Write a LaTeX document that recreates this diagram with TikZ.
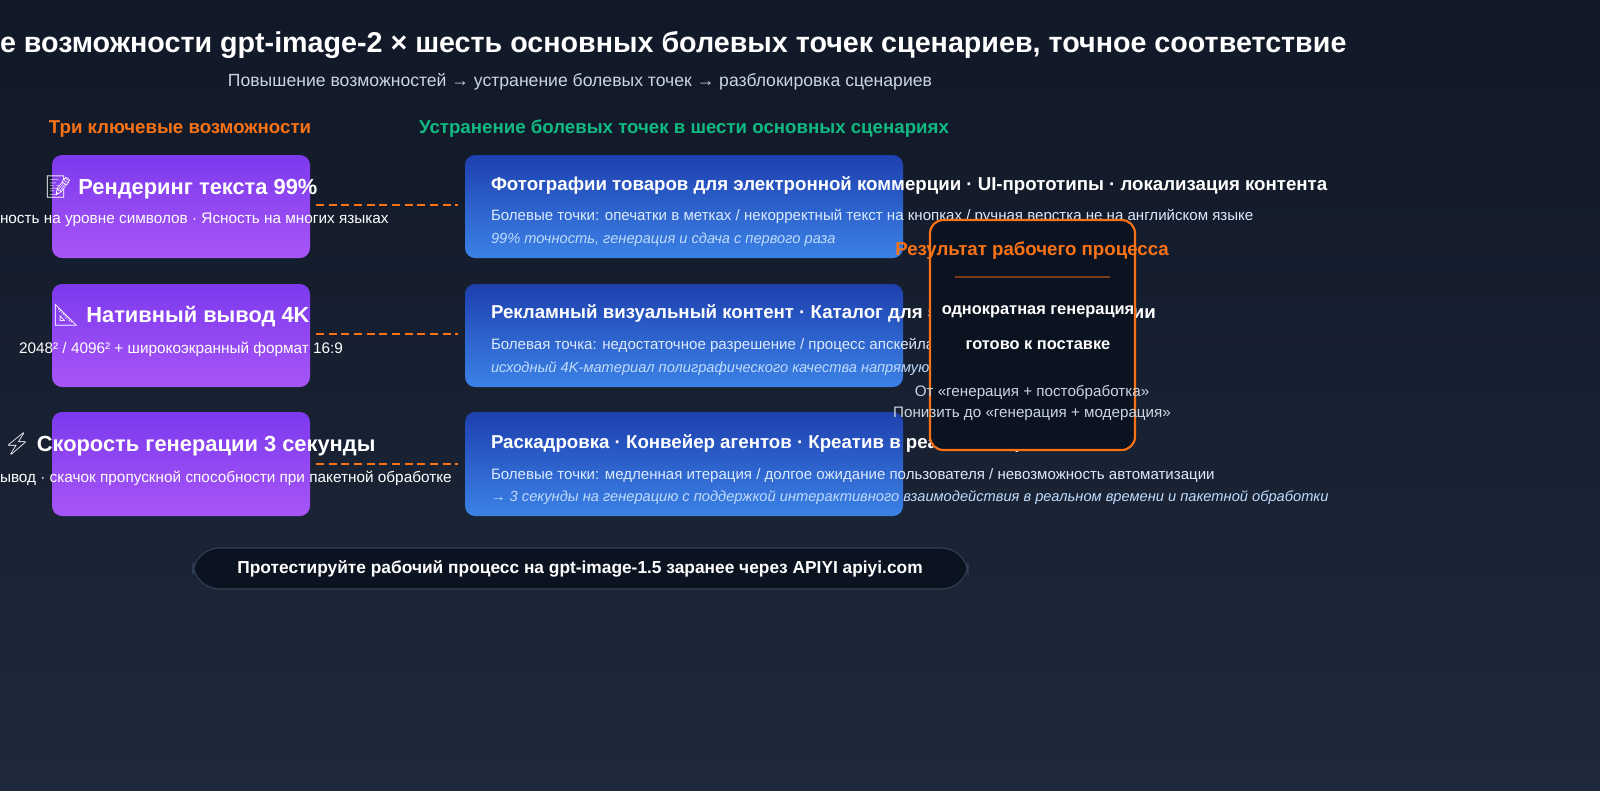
\documentclass[tikz,border=0pt]{standalone}
\usepackage{fontspec}
\setmainfont{Liberation Sans}
\newfontfamily\emo{Noto Emoji}
\begin{document}
\begin{tikzpicture}[x=0.75pt,y=-0.75pt,
  every node/.style={inner sep=0pt,outer sep=0pt,text=white},
  capbox/.style={rounded corners=7.5pt,top color=cpurpA,bottom color=cpurpB,draw=none},
  scenbox/.style={rounded corners=7.5pt,top color=cblueA,bottom color=cblueB,draw=none},
  captitle/.style={font=\bfseries\fontsize{16.4}{19}\selectfont},
  capsub/.style={font=\fontsize{11.5}{13}\selectfont},
  scentitle/.style={anchor=west,font=\bfseries\fontsize{14}{16}\selectfont},
  scensub/.style={anchor=west,font=\fontsize{11.3}{13}\selectfont,text=cpale},
  scenit/.style={anchor=west,font=\itshape\fontsize{11}{13}\selectfont,text=citalic},
  link/.style={draw=corange,line width=1.5pt,dash pattern=on 6pt off 3.5pt},
  smalltxt/.style={font=\fontsize{11.4}{13}\selectfont,text=cgrey}]
\definecolor{bgA}{HTML}{111827}
\definecolor{bgB}{HTML}{1E293B}
\definecolor{cpurpA}{HTML}{7C3AED}
\definecolor{cpurpB}{HTML}{A855F7}
\definecolor{cblueA}{HTML}{1E40AF}
\definecolor{cblueB}{HTML}{3B82E6}
\definecolor{corange}{HTML}{F97316}
\definecolor{cgreen}{HTML}{10B981}
\definecolor{cpale}{HTML}{DBEAFE}
\definecolor{citalic}{HTML}{BFDBFE}
\definecolor{cgrey}{HTML}{CBD5E1}
\definecolor{cdark}{HTML}{0B1220}
\definecolor{cline}{HTML}{7C3A1A}
\definecolor{cpill}{HTML}{334155}
\useasboundingbox (0,0) rectangle (1600,790);
\shade[left color=bgA,right color=bgB,shading angle=0] (0,0) rectangle (1600,790);
% title
\node[anchor=west,font=\bfseries\fontsize{21.5}{25}\selectfont] (title) at (0,45) {е возможности gpt-image-2 × шесть основных болевых точек сценариев, точное соответствие};
\node[font=\fontsize{13.2}{15}\selectfont,text=cgrey] (subt) at (580,82) {Повышение возможностей → устранение болевых точек → разблокировка сценариев};
\node[font=\bfseries\fontsize{14}{16}\selectfont,text=corange] (h1) at (180,129) {Три ключевые возможности};
\node[font=\bfseries\fontsize{14}{16}\selectfont,text=cgreen] (h2) at (684,129) {Устранение болевых точек в шести основных сценариях};
% capability boxes
\path[capbox] (52,155) rectangle (310,258);
\path[capbox] (52,284) rectangle (310,387);
\path[capbox] (52,412) rectangle (310,516);
\node[captitle] (c1) at (181,187) {{\emo 📝} Рендеринг текста 99\%};
\node[capsub,anchor=west] (c1s) at (0,220) {ность на уровне символов · Ясность на многих языках};
\node[captitle] (c2) at (181,315) {{\emo 📐} Нативный вывод 4K};
\node[capsub] (c2s) at (181,349) {2048² / 4096² + широкоэкранный формат 16:9};
\node[captitle,anchor=west] (c3) at (3,444) {{\emo ⚡} Скорость генерации 3 секунды};
\node[capsub,anchor=west] (c3s) at (0,478) {ывод · скачок пропускной способности при пакетной обработке};
% links
\coordinate (l1a) at (316,205); \coordinate (l1b) at (458,205);
\coordinate (l2a) at (316,334); \coordinate (l2b) at (458,334);
\coordinate (l3a) at (316,464); \coordinate (l3b) at (458,464);
\draw[link] (l1a) -- (l1b);
\draw[link] (l2a) -- (l2b);
\draw[link] (l3a) -- (l3b);
% scenario boxes
\path[scenbox] (465,155) rectangle (903,258);
\path[scenbox] (465,284) rectangle (903,387);
\path[scenbox] (465,412) rectangle (903,516);
\node[scentitle] (s1) at (491,185) {Фотографии товаров для электронной коммерции · UI-прототипы · локализация контента};
\node[scensub] (s1b) at (491,216) {Болевые точки: опечатки в метках / некорректный текст на кнопках / ручная верстка не на английском языке};
\node[scenit] (s1c) at (491,240) {99\% точность, генерация и сдача с первого раза};
\node[scentitle] (s2) at (491,313) {Рекламный визуальный контент · Каталог для электронной коммерции};
\node[scensub] (s2b) at (491,345) {Болевая точка: недостаточное разрешение / процесс апскейла снижает качество контента};
\node[scenit] (s2c) at (491,369) {исходный 4K-материал полиграфического качества напрямую};
\node[scentitle] (s3) at (491,443) {Раскадровка · Конвейер агентов · Креатив в реальном времени};
\node[scensub] (s3b) at (491,476) {Болевые точки: медленная итерация / долгое ожидание пользователя / невозможность автоматизации};
\node[scenit] (s3c) at (491,498) {→ 3 секунды на генерацию с поддержкой интерактивного взаимодействия в реальном времени и пакетной обработки};
% result box
\draw[fill=cdark,draw=corange,line width=1.6pt,rounded corners=10pt] (930,220) rectangle (1135,450);
\node[font=\bfseries\fontsize{14}{16}\selectfont,text=corange] (rt) at (1032,251) {Результат рабочего процесса};
\coordinate (ra) at (955,277); \coordinate (rb) at (1110,277);
\draw[cline,line width=0.8pt] (ra) -- (rb);
\node[font=\bfseries\fontsize{12.3}{14}\selectfont] (r1) at (1038,312) {однократная генерация};
\node[font=\bfseries\fontsize{12.3}{14}\selectfont] (r2) at (1038,345) {готово к поставке};
\node[smalltxt] (r3) at (1032,392) {От «генерация + постобработка»};
\node[smalltxt] (r4) at (1032,414) {Понизить до «генерация + модерация»};
% bottom pill
\draw[fill=cdark,draw=cpill,line width=0.8pt,rounded corners=20pt] (193,548) rectangle (968,589);
\node[font=\bfseries\fontsize{13}{15}\selectfont] (pill) at (580,569) {Протестируйте рабочий процесс на gpt-image-1.5 заранее через APIYI apiyi.com};
\end{tikzpicture}
\end{document}
